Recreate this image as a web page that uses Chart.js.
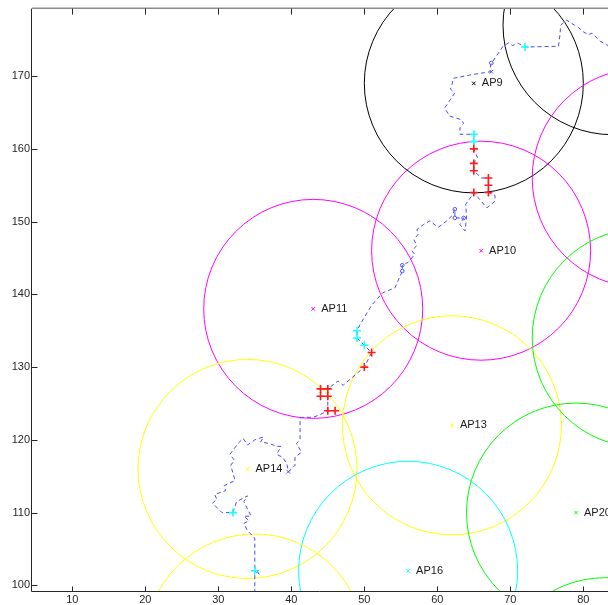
<!DOCTYPE html>
<html><head><meta charset="utf-8">
<script src="https://cdn.jsdelivr.net/npm/chart.js@4.4.1/dist/chart.umd.min.js"></script>
<style>html,body{margin:0;padding:0;background:#fff;overflow:hidden}#wrap{width:608px;height:605px}</style>
</head><body><div id="wrap"><canvas id="c" width="608" height="605"></canvas></div>
<script>
// Axis ranges and ticks
const xRange = [4.48, 83.38];
const yRange = [99.22, 179.28];
const xTicks = [10, 20, 30, 40, 50, 60, 70, 80];
const yTicks = [100, 110, 120, 130, 140, 150, 160, 170];

// Access points (labelled)
const apNames = ['AP9', 'AP10', 'AP11', 'AP13', 'AP14', 'AP16', 'AP20'];
const apX = [65, 66, 43, 62, 34, 56, 79];
const apY = [169, 146, 138, 122, 116, 102, 110];
const apColors = ['#000000', '#ff00ff', '#ff00ff', '#ffff00', '#ffff00', '#00ffff', '#00ff00'];

// Coverage circles (centre + radius)
const circleX = [65, 66, 43, 62, 34, 56, 79, 35, 84, 88, 88, 83];
const circleY = [169, 146, 138, 122, 116, 102, 110, 92, 177, 156, 134, 86];
const circleR = [15, 15, 15, 15, 15, 15, 15, 15, 15, 15, 15, 15];
const circleColors = ['#000000', '#ff00ff', '#ff00ff', '#ffff00', '#ffff00', '#00ffff', '#00ff00',
                      '#ffff00', '#000000', '#ff00ff', '#00ff00', '#00ff00'];

// Walked path
const pathX = [35, 35, 35.6, 35, 35, 34, 33.5, 34.2, 33.5, 34.5, 33.5, 34, 32.5, 32, 30.5, 29.2, 29.8, 29.5, 31, 30.8, 32.3, 31.7, 32.2, 31.6, 32.7, 33.4, 34, 35, 36.2, 35.8, 37, 38, 38.6, 38, 38.8, 39.4, 39.6, 40.5, 40.5, 41.4, 40.7, 41.2, 41.2, 41.6, 43, 44, 45, 46, 45, 45, 44, 44, 45, 46.4, 47.1, 50, 51, 50, 49, 49, 49.5, 51, 52.5, 54.2, 55.2, 55.2, 56, 56.9, 56.5, 57.2, 56.8, 57.4, 57.2, 58.1, 59, 60.1, 61.3, 62, 62.4, 62.4, 63.6, 63.1, 63.8, 64, 63.9, 64.7, 65, 66, 66.8, 67.9, 67.9, 67, 67, 67, 66, 65, 65, 65.5, 65, 65, 65, 63.1, 63.1, 63.6, 63.3, 61.7, 61, 61.6, 62.4, 61.8, 62, 62.2, 64.7, 67.3, 67.3, 69, 69.8, 70.3, 71.1, 72, 76.6, 76.8, 76.9, 77.7, 78.8, 79.3, 80, 80.7, 81.2, 82.3, 83.2, 85];
const pathY = [97, 102, 101.5, 102.5, 106.5, 107.5, 108.5, 108.9, 109.5, 109.5, 111.5, 112.3, 111.5, 110, 110, 111.3, 111.8, 112.5, 113, 113.7, 114.4, 116.5, 117.2, 118, 119.5, 120.2, 119.3, 120, 120.4, 119.7, 119.5, 119.1, 119.1, 118, 117.6, 116.7, 115.6, 116.5, 117.6, 118.3, 119.5, 120, 123, 123.1, 123.1, 123.5, 124, 124, 124, 126, 126, 127, 127, 128.1, 127.5, 130, 132, 133, 134, 135, 136, 138.5, 140.2, 140.9, 143.2, 144, 144.4, 145.5, 146, 146.7, 147.5, 148.3, 148.9, 149.6, 150.1, 149.2, 150.1, 150.8, 151.7, 150.5, 150.5, 149.6, 148.7, 150.5, 152.4, 153.5, 154, 152.8, 151.9, 152.8, 153.6, 154, 155, 156, 156, 157, 158, 158.8, 160, 161, 162, 162, 162.9, 163.5, 164, 164.5, 165.6, 166.5, 167.7, 168.2, 168.8, 169.7, 170.2, 170.6, 171.6, 174.1, 174.6, 174.2, 174.5, 174, 174.1, 175.7, 177, 177.7, 177, 176.7, 176.1, 175.7, 175.9, 174.8, 174.3, 173.5];

// Red '+' estimates
const redX = [44, 45, 44, 45, 45, 46, 50, 51, 65, 67, 67, 67, 65, 65, 65];
const redY = [127, 127, 126, 126, 124, 124, 130, 132, 154, 154, 155, 156, 157, 158, 160];
// Cyan '+' estimates
const cyanX = [35, 32, 50, 49, 49, 65, 65, 72];
const cyanY = [102, 110, 133, 134, 135, 161, 162, 174];
// Small blue markers on the path
const blueOX = [55.2, 55.2, 62.4, 62.4, 63.6, 67.4];
const blueOY = [143.2, 144.0, 151.7, 150.5, 150.5, 171.8];
const blueXX = [39.6, 67.4];
const blueXY = [115.6, 170.6];

const FONT = 'Liberation Sans, Arial, Helvetica, sans-serif';
const pts = (xs, ys) => xs.map((x, i) => ({x: x, y: ys[i]}));

const axesPlugin = {
  id: 'matlabAxes',
  afterDraw(chart) {
    const {ctx, chartArea: a, scales: {x, y}} = chart;
    ctx.save();
    ctx.strokeStyle = '#8c8c8c';
    ctx.lineWidth = 1.5;
    ctx.beginPath(); ctx.moveTo(a.left, a.top - 0.25); ctx.lineTo(a.right, a.top - 0.25); ctx.stroke();
    ctx.strokeStyle = '#262626';
    ctx.lineWidth = 1;
    ctx.beginPath();
    const lx = Math.round(a.left) - 0.5, by = Math.round(a.bottom) + 0.5;
    ctx.moveTo(lx, a.top); ctx.lineTo(lx, by);
    ctx.lineTo(a.right, by);
    xTicks.forEach(v => {
      const px = Math.round(x.getPixelForValue(v)) + 0.5;
      ctx.moveTo(px, by); ctx.lineTo(px, by - 5);
      ctx.moveTo(px, a.top); ctx.lineTo(px, a.top + 6);
    });
    yTicks.forEach(v => {
      const py = Math.round(y.getPixelForValue(v)) + 0.5;
      ctx.moveTo(lx, py); ctx.lineTo(lx + 6, py);
    });
    ctx.stroke();
    ctx.restore();
  },
  afterDatasetsDraw(chart) {
    const {ctx, scales: {x, y}} = chart;
    ctx.save();
    ctx.font = '11px ' + FONT;
    ctx.fillStyle = '#1a1a1a';
    ctx.textBaseline = 'middle';
    ctx.textAlign = 'left';
    apNames.forEach((n, i) => {
      ctx.fillText(n, x.getPixelForValue(apX[i]) + 8, y.getPixelForValue(apY[i]));
    });
    ctx.restore();
  }
};

const pxRadius = (ctx) => {
  const s = ctx.chart.scales.x;
  if (!s) return 0;
  return Math.abs(s.getPixelForValue(circleR[ctx.dataIndex]) - s.getPixelForValue(0));
};

new Chart(document.getElementById('c'), {
  type: 'scatter',
  data: {
    datasets: [
      {label: 'red', data: pts(redX, redY), pointStyle: 'cross', pointRadius: 4, pointBorderWidth: 1.6,
       pointBorderColor: '#ff1a1a', pointBackgroundColor: '#ff1a1a', order: 0, clip: 0},
      {label: 'cyan', data: pts(cyanX, cyanY), pointStyle: 'cross', pointRadius: 4, pointBorderWidth: 1.6,
       pointBorderColor: '#1affff', pointBackgroundColor: '#1affff', order: 0, clip: 0},
      {label: 'ap', data: pts(apX, apY), pointStyle: 'crossRot', pointRadius: 2.5, pointBorderWidth: 1,
       pointBorderColor: apColors, pointBackgroundColor: apColors, order: 0, clip: 0},
      {label: 'o', data: pts(blueOX, blueOY), pointStyle: 'circle', pointRadius: 1.8, pointBorderWidth: 1,
       pointBorderColor: '#5050ff', pointBackgroundColor: 'rgba(0,0,0,0)', order: 1, clip: 0},
      {label: 'x', data: pts(blueXX, blueXY), pointStyle: 'crossRot', pointRadius: 2.5, pointBorderWidth: 1,
       pointBorderColor: '#5050ff', pointBackgroundColor: '#5050ff', order: 1, clip: 0},
      {label: 'path', data: pts(pathX, pathY), showLine: true, borderColor: '#4a4aff', borderWidth: 1,
       borderDash: [4, 3], pointRadius: 0, order: 1, clip: 0, tension: 0},
      {label: 'circles', data: pts(circleX, circleY), pointStyle: 'circle', pointRadius: pxRadius,
       pointBorderColor: circleColors, pointBackgroundColor: 'rgba(0,0,0,0)', pointBorderWidth: 1,
       order: 2, clip: 0}
    ]
  },
  options: {
    responsive: false, animation: false, events: [],
    layout: {autoPadding: false, padding: {top: 7, left: 0, right: 0, bottom: 0}},
    plugins: {legend: {display: false}, tooltip: {enabled: false}},
    scales: {
      x: {
        type: 'linear', min: xRange[0], max: xRange[1],
        afterBuildTicks: s => { s.ticks = xTicks.map(v => ({value: v})); },
        afterFit: s => { s.height = 14; },
        grid: {display: false, drawTicks: false}, border: {display: false},
        ticks: {padding: 2, autoSkip: false, maxRotation: 0, color: '#262626', font: {family: FONT, size: 11}}
      },
      y: {
        type: 'linear', min: yRange[0], max: yRange[1],
        afterBuildTicks: s => { s.ticks = yTicks.map(v => ({value: v})); },
        afterFit: s => { s.width = 32; },
        grid: {display: false, drawTicks: false}, border: {display: false},
        ticks: {padding: 2, autoSkip: false, color: '#262626', font: {family: FONT, size: 11}}
      }
    }
  },
  plugins: [axesPlugin]
});
</script></body></html>
